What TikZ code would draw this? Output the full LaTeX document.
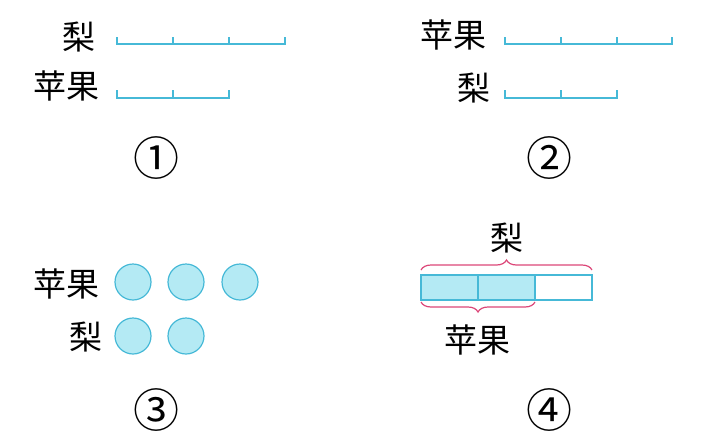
\documentclass[tikz,border=0pt]{standalone}
\usepackage{fontspec}
\newfontfamily\cjk{Noto Sans CJK SC}
\usetikzlibrary{decorations.pathreplacing}
\definecolor{segcyan}{RGB}{70,185,215}
\definecolor{fillcyan}{RGB}{180,234,244}
\definecolor{bracepink}{RGB}{220,70,120}

\begin{document}
\begin{tikzpicture}[x=1pt,y=-1pt,
    lbl/.style={font=\cjk\fontsize{33}{33}\selectfont, inner sep=0pt},
    num/.style={font=\cjk\fontsize{46}{46}\selectfont, inner sep=0pt},
    seg/.style={segcyan, line width=1.2pt},
    dot/.style={circle, draw=segcyan, fill=fillcyan, line width=1.2pt, minimum size=36pt, inner sep=0pt},
    brc/.style={bracepink, line width=1.2pt, decorate, decoration={brace, amplitude=10pt}}]
        \useasboundingbox (0,0) rectangle (717,437);

        % Part 1: pear is 3 parts, apple 2 parts
        \node[lbl] (pearA) at (79,37) {梨};
        \node[lbl] (appleA) at (66,86) {苹果};
        \draw[seg] (117,37) -- (117,44) -- (285,44) -- (285,37);
        \foreach \x in {173,229}
          \draw[seg] (\x,44) -- (\x,37);
        \draw[seg] (117,90) -- (117,98) -- (229,98) -- (229,90);
        \draw[seg] (173,98) -- (173,90);
        \node[num] (numA) at (156,158) {①};

        % Part 2: apple is 3 parts, pear 2 parts
        \node[lbl] (appleB) at (453,35) {苹果};
        \node[lbl] (pearB) at (474,88) {梨};
        \draw[seg] (505,37) -- (505,44) -- (672,44) -- (672,37);
        \foreach \x in {561,617}
          \draw[seg] (\x,44) -- (\x,37);
        \draw[seg] (505,90) -- (505,98) -- (617,98) -- (617,90);
        \draw[seg] (561,98) -- (561,90);
        \node[num] (numB) at (549,158) {②};

        % Part 3: circles
        \node[lbl] (appleC) at (66,284) {苹果};
        \node[lbl] (pearC) at (86,337) {梨};
        \foreach \x [count=\i] in {133,186,240}
          \node[dot] (a\i) at (\x,282) {};
        \foreach \x [count=\i] in {133,186}
          \node[dot] (p\i) at (\x,336) {};
        \node[num] (numC) at (156,410) {③};

        % Part 4: bar with braces
        \draw[seg, fill=fillcyan] (421,275) rectangle (478,300);
        \draw[seg, fill=fillcyan] (478,275) rectangle (535,300);
        \draw[seg] (535,275) rectangle (592,300);
        \coordinate (topL) at (421,270);
        \coordinate (topR) at (592,270);
        \coordinate (botL) at (421,302);
        \coordinate (botR) at (535,302);
        \draw[brc] (topL) -- (topR);
        \draw[brc] (botR) -- (botL);
        \node[lbl] (pearD) at (507,238) {梨};
        \node[lbl] (appleD) at (477,340) {苹果};
        \node[num] (numD) at (549,410) {④};
\end{tikzpicture}
\end{document}
